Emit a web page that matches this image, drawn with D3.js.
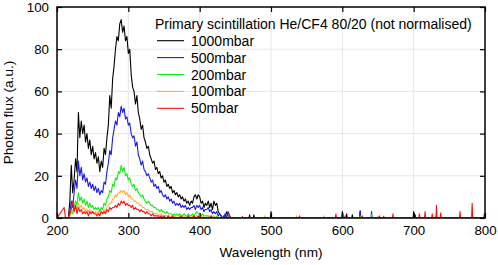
<!DOCTYPE html>
<html lang="en">
<head>
  <meta charset="UTF-8" />
  <title>Primary scintillation He/CF4 80/20</title>
  <script src="https://cdn.jsdelivr.net/npm/d3@7"></script>
  <style>
    html, body { margin: 0; padding: 0; background: #fff; }
    svg { display: block; }
    text { font-family: "Liberation Sans", Arial, Helvetica, sans-serif; fill: #000; }
  </style>
</head>
<body>
<script>
  // Wavelength grid of the dense part of the spectra (210..450 nm, 2 nm steps)
  const wavelengths = d3.range(210, 451, 2);

  const seriesNames = ["1000mbar", "500mbar", "200mbar", "100mbar", "50mbar"];
  const seriesColors = ["#000000", "#1a1aee", "#11ee11", "#ffb040", "#ff1010"];

  const flux1000 = [
    0, 0, 0, 0, 8, 25, 12, 18, 28, 22,
    50, 38, 46, 40, 44, 36, 40, 33, 37, 30,
    34, 28, 31, 26, 29, 22, 27, 24, 33, 30,
    38, 44, 58, 52, 66, 72, 80, 86, 84, 92,
    94, 88, 91, 84, 86, 78, 80, 68, 62, 60,
    54, 58, 50, 47, 42, 44, 38, 36, 33, 34,
    30, 28, 26, 27, 23, 24, 21, 22, 19, 20,
    17, 18, 15, 16, 14, 15, 12, 13, 11, 12,
    10, 11, 9, 10, 8, 9, 7, 8, 6, 8,
    7, 10, 11, 9, 11, 10, 7, 8, 5, 7,
    6, 8, 5, 7, 4, 8, 6, 7, 3, 2,
    1, 0, 0, 1, 3, 1, 0, 0, 0, 0,
    0
  ];
  const flux500 = [
    0, 0, 0, 0, 3, 8, 5, 12, 18, 14,
    27, 20, 24, 18, 21, 17, 19, 15, 17, 14,
    16, 13, 15, 12, 14, 11, 13, 12, 17, 16,
    22, 26, 32, 30, 38, 42, 46, 44, 50, 48,
    53, 50, 52, 47, 48, 44, 45, 40, 38, 39,
    34, 36, 30, 28, 25, 27, 23, 22, 20, 21,
    19, 17, 18, 15, 16, 14, 15, 12, 13, 11,
    10, 11, 9, 10, 8, 9, 7, 8, 6, 7,
    6, 7, 5, 6, 5, 6, 4, 5, 4, 5,
    5, 6, 4, 6, 5, 6, 4, 5, 3, 4,
    4, 5, 3, 4, 2, 3, 2, 3, 1, 2,
    1, 0, 1, 2, 0, 3, 1, 0, 0, 0,
    0
  ];
  const flux200 = [
    0, 0, 0, 0, 1, 3, 2, 5, 8, 6,
    12, 8, 10, 7, 9, 6, 8, 5, 7, 5,
    6, 4, 5, 4, 5, 3, 5, 4, 7, 6,
    9, 10, 13, 12, 16, 15, 19, 18, 22, 21,
    25, 22, 24, 20, 21, 18, 19, 16, 15, 16,
    13, 14, 12, 11, 10, 11, 9, 8, 7, 8,
    7, 6, 6, 5, 5, 4, 4, 3, 4, 3,
    3, 2, 3, 2, 2, 2, 1, 2, 1, 2,
    1, 2, 1, 1, 2, 1, 1, 2, 1, 1,
    2, 1, 2, 3, 2, 2, 1, 2, 1, 1,
    1, 1, 0, 1, 0, 1, 0, 1, 0, 0,
    0, 0, 0, 0, 0, 1, 0, 0, 0, 0,
    0
  ];
  const flux100 = [
    0, 0, 0, 0, 1, 2, 4, 3, 6, 4,
    7, 5, 6, 4, 5, 3, 4, 3, 4, 3,
    3, 2, 3, 2, 3, 2, 3, 2, 4, 3,
    5, 6, 7, 7, 9, 9, 11, 10, 12, 12,
    13, 12, 13, 11, 12, 10, 11, 9, 9, 8,
    8, 7, 7, 6, 6, 5, 5, 4, 4, 4,
    3, 3, 3, 2, 2, 2, 2, 1, 2, 1,
    1, 1, 1, 1, 1, 0, 1, 0, 1, 0,
    0, 1, 0, 0, 1, 0, 0, 1, 0, 0,
    1, 0, 1, 1, 0, 1, 0, 1, 0, 0,
    0, 0, 1, 0, 0, 1, 0, 0, 0, 0,
    0, 0, 0, 0, 0, 0, 0, 0, 0, 0,
    0
  ];
  const flux50 = [
    5, 0, 0, 0, 2, 4, 8, 3, 6, 2,
    5, 3, 4, 2, 3, 2, 3, 1, 3, 2,
    3, 2, 2, 1, 2, 1, 3, 2, 3, 2,
    4, 3, 5, 4, 5, 5, 6, 5, 7, 6,
    8, 7, 8, 6, 7, 6, 6, 5, 6, 4,
    5, 4, 4, 3, 4, 3, 3, 2, 3, 2,
    2, 1, 2, 1, 1, 1, 1, 0, 1, 0,
    1, 0, 0, 1, 0, 0, 1, 0, 0, 0,
    0, 0, 1, 0, 0, 0, 0, 1, 0, 0,
    0, 1, 0, 0, 1, 0, 0, 0, 0, 0,
    0, 0, 0, 1, 0, 0, 0, 0, 0, 0,
    0, 0, 0, 0, 0, 0, 1, 0, 0, 0,
    0
  ];

  // Isolated lines beyond 450 nm: [wavelength, flux]
  const spikes1000 = [[470, 1.5], [476, 1.5], [500, 3], [600, 3], [606, 2], [614, 1.5], [625, 3], [700, 3], [702, 1.5]];
  const spikes500 = [[600, 2], [625, 3.5], [641, 3]];
  const spikes200 = [[625, 1], [641, 1.8]];
  const spikes100 = [[491, 1], [536, 1], [574, 1], [650, 0.8]];
  const spikes50 = [[460, 0.8], [540, 1], [591, 2], [604, 1], [628, 1], [652, 1], [658, 0.8], [671, 2],
                    [708, 2], [716, 3], [726, 2], [732, 6], [738, 2.5], [765, 3], [782, 7], [799, 2]];

  const xTicks = [200, 300, 400, 500, 600, 700, 800];
  const yTicks = [0, 20, 40, 60, 80, 100];

  const legendTitle = "Primary scintillation He/CF4 80/20 (not normalised)";
  const xLabel = "Wavelength (nm)";
  const yLabel = "Photon flux (a.u.)";

  const width = 498, height = 265;
  const margin = { top: 7, right: 13, bottom: 47, left: 57 };

  const svg = d3.select("body").append("svg")
    .attr("width", width)
    .attr("height", height);

  const x = d3.scaleLinear().domain([200, 800]).range([margin.left, width - margin.right]);
  const y = d3.scaleLinear().domain([0, 100]).range([height - margin.bottom, margin.top]);

  // grid
  const grid = svg.append("g").attr("stroke", "#e6e6e6").attr("stroke-width", 1);
  xTicks.slice(1, -1).forEach(t => {
    grid.append("line").attr("x1", x(t)).attr("x2", x(t)).attr("y1", y(0)).attr("y2", y(100));
  });
  yTicks.slice(1, -1).forEach(t => {
    grid.append("line").attr("x1", x(200)).attr("x2", x(800)).attr("y1", y(t)).attr("y2", y(t));
  });

  // build each series: dense part + isolated spikes, baseline 0 from 200 to 800
  function buildSeries(values, spikes) {
    const pts = [[200, 0]];
    wavelengths.forEach((w, i) => pts.push([w, values[i]]));
    spikes.forEach(([w, v]) => {
      pts.push([w - 0.8, 0], [w, v], [w + 0.8, 0]);
    });
    pts.push([800, 0]);
    return pts;
  }
  const allSeries = [
    buildSeries(flux1000, spikes1000),
    buildSeries(flux500, spikes500),
    buildSeries(flux200, spikes200),
    buildSeries(flux100, spikes100),
    buildSeries(flux50, spikes50)
  ];

  const line = d3.line().x(d => x(d[0])).y(d => y(d[1]));

  svg.append("defs").append("clipPath").attr("id", "clip")
    .append("rect")
    .attr("x", x(200)).attr("y", y(100))
    .attr("width", x(800) - x(200)).attr("height", y(0) - y(100));

  const plot = svg.append("g").attr("clip-path", "url(#clip)");
  allSeries.forEach((pts, i) => {
    plot.append("path")
      .attr("d", line(pts))
      .attr("fill", "none")
      .attr("stroke", seriesColors[i])
      .attr("stroke-width", 1.1)
      .attr("stroke-linejoin", "round");
  });

  // axes with inward ticks on all four sides
  const tickLen = 5;
  const font = "Liberation Sans, Arial, sans-serif";
  svg.append("g")
    .attr("transform", `translate(0,${y(0)})`)
    .call(d3.axisBottom(x).tickValues(xTicks).tickSizeInner(-tickLen).tickSizeOuter(0).tickPadding(8))
    .call(g => g.select(".domain").remove())
    .call(g => g.selectAll("text").attr("font-size", 13.3).attr("font-family", font));
  svg.append("g")
    .attr("transform", `translate(0,${y(100)})`)
    .call(d3.axisTop(x).tickValues(xTicks).tickSizeInner(-tickLen).tickSizeOuter(0).tickFormat(""))
    .call(g => g.select(".domain").remove());
  svg.append("g")
    .attr("transform", `translate(${x(200)},0)`)
    .call(d3.axisLeft(y).tickValues(yTicks).tickSizeInner(-tickLen).tickSizeOuter(0).tickPadding(8))
    .call(g => g.select(".domain").remove())
    .call(g => g.selectAll("text").attr("font-size", 13.3).attr("font-family", font));
  svg.append("g")
    .attr("transform", `translate(${x(800)},0)`)
    .call(d3.axisRight(y).tickValues(yTicks).tickSizeInner(-tickLen).tickSizeOuter(0).tickFormat(""))
    .call(g => g.select(".domain").remove());
  svg.selectAll(".tick line").attr("stroke", "#000").attr("stroke-width", 1.2);

  // frame
  svg.append("rect")
    .attr("x", x(200)).attr("y", y(100))
    .attr("width", x(800) - x(200)).attr("height", y(0) - y(100))
    .attr("fill", "none").attr("stroke", "#000").attr("stroke-width", 1.5);

  // axis titles
  svg.append("text")
    .attr("x", (x(200) + x(800)) / 2).attr("y", 257)
    .attr("text-anchor", "middle").attr("font-size", 13.6)
    .text(xLabel);
  svg.append("text")
    .attr("transform", `translate(13,112.5) rotate(-90)`)
    .attr("text-anchor", "middle").attr("font-size", 13.6)
    .text(yLabel);

  // legend
  const legend = svg.append("g");
  legend.append("text").attr("x", 155).attr("y", 28.5).attr("font-size", 14).text(legendTitle);
  seriesNames.forEach((name, i) => {
    const yy = 40.7 + i * 16.9;
    legend.append("line")
      .attr("x1", 157).attr("x2", 184).attr("y1", yy).attr("y2", yy)
      .attr("stroke", seriesColors[i]).attr("stroke-width", 1.1);
    legend.append("text").attr("x", 191).attr("y", yy + 5).attr("font-size", 14).text(name);
  });
</script>
</body>
</html>
